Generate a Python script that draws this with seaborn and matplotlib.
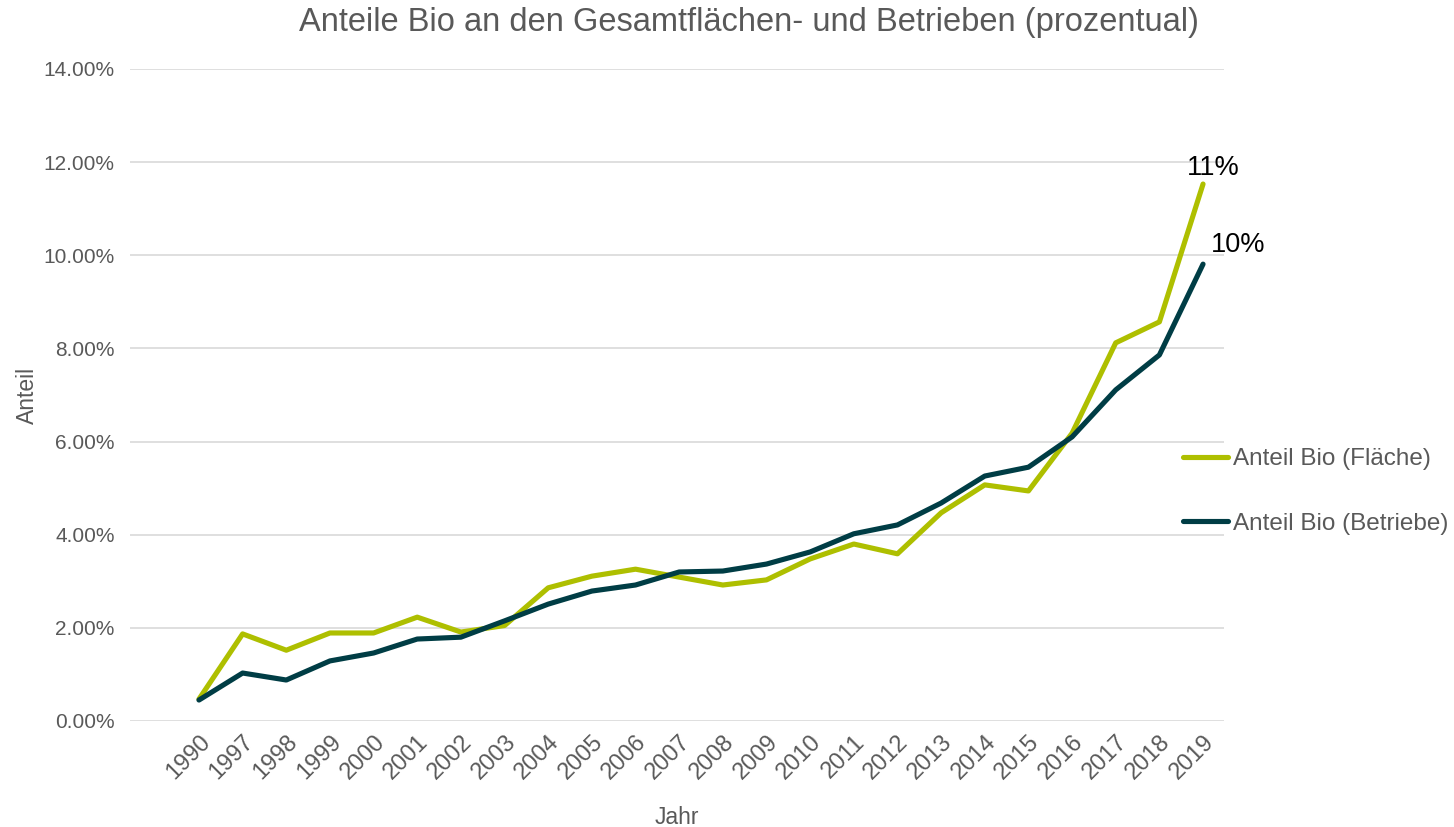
import matplotlib
matplotlib.use("Agg")
import matplotlib.pyplot as plt
import matplotlib.ticker as mticker
import seaborn as sns
import pandas as pd

years = ["1990", "1997", "1998", "1999", "2000", "2001", "2002", "2003", "2004", "2005",
         "2006", "2007", "2008", "2009", "2010", "2011", "2012", "2013", "2014", "2015",
         "2016", "2017", "2018", "2019"]
flaeche = [0.47, 1.87, 1.52, 1.89, 1.89, 2.23, 1.91, 2.05, 2.86, 3.11,
           3.26, 3.09, 2.92, 3.03, 3.48, 3.80, 3.59, 4.47, 5.07, 4.94,
           6.18, 8.12, 8.57, 11.53]
betriebe = [0.45, 1.03, 0.88, 1.29, 1.46, 1.76, 1.80, 2.15, 2.51, 2.79,
            2.92, 3.20, 3.22, 3.37, 3.63, 4.02, 4.21, 4.68, 5.26, 5.45,
            6.10, 7.11, 7.86, 9.81]
series_names = ["Anteil Bio (Fläche)", "Anteil Bio (Betriebe)"]
end_labels = ["11%", "10%"]
colors = ["#AEBF00", "#003D45"]

df = pd.DataFrame({
    "Jahr": list(range(len(years))) * 2,
    "Anteil": flaeche + betriebe,
    "Serie": [series_names[0]] * len(years) + [series_names[1]] * len(years),
})

sns.set_theme(style="white")
plt.rcParams['font.family'] = ['Liberation Sans', 'DejaVu Sans']

fig = plt.figure(figsize=(14.54, 8.27), dpi=100)
ax = fig.add_axes([130/1454, 1-721/827, (1224-130)/1454, (721-69)/827])

LW = 3.7
sns.lineplot(data=df, x="Jahr", y="Anteil", hue="Serie", palette=colors,
             linewidth=LW, ax=ax, legend=False, sort=False)
for line in ax.lines:
    line.set_solid_capstyle("round")
    line.set_solid_joinstyle("round")

ax.set_xlim(-1.58, 23.48)
ax.set_ylim(0, 14)
ax.set_yticks([0, 2, 4, 6, 8, 10, 12, 14])
ax.yaxis.set_major_formatter(mticker.FuncFormatter(lambda v, p: f"{v:.2f}%"))
ax.set_xticks(range(len(years)))
ax.set_xticklabels(years, rotation=45, ha="right", rotation_mode="anchor")
ax.grid(axis="y", color="#D9D9D9", linewidth=1.2)
ax.set_axisbelow(True)
for s in ax.spines.values():
    s.set_visible(False)
ax.tick_params(axis="both", length=0, colors="#595959", labelsize=15)
ax.tick_params(axis="x", pad=7, labelsize=17)
ax.tick_params(axis="y", pad=11)

ax.set_xlabel("Jahr", color="#595959", fontsize=16.5, labelpad=16)
ax.set_ylabel("Anteil", color="#595959", fontsize=16.5, labelpad=3)
fig.text(0.515, 1 - 22/827, "Anteile Bio an den Gesamtflächen- und Betrieben (prozentual)",
         color="#595959", fontsize=23.5, ha="center", va="center")

# end labels
ax.annotate(end_labels[0], (len(years) - 1, flaeche[-1]), xytext=(7, 11.5),
            textcoords="offset points", ha="center", va="center", fontsize=19.5, color="black")
ax.annotate(end_labels[1], (len(years) - 1, betriebe[-1]), xytext=(25.5, 14),
            textcoords="offset points", ha="center", va="center", fontsize=19.5, color="black")

handles = [plt.Line2D([], [], color=c, linewidth=LW, solid_capstyle="round") for c in colors]
leg = fig.legend(handles, series_names, loc="center left", bbox_to_anchor=(1183/1454, 1-491.5/827),
                 frameon=False, fontsize=17.5, handlelength=1.85, handletextpad=0.2,
                 labelspacing=1.75, borderpad=0, borderaxespad=0)
for t in leg.get_texts():
    t.set_color("#595959")

fig.savefig("out.png", dpi=100)
